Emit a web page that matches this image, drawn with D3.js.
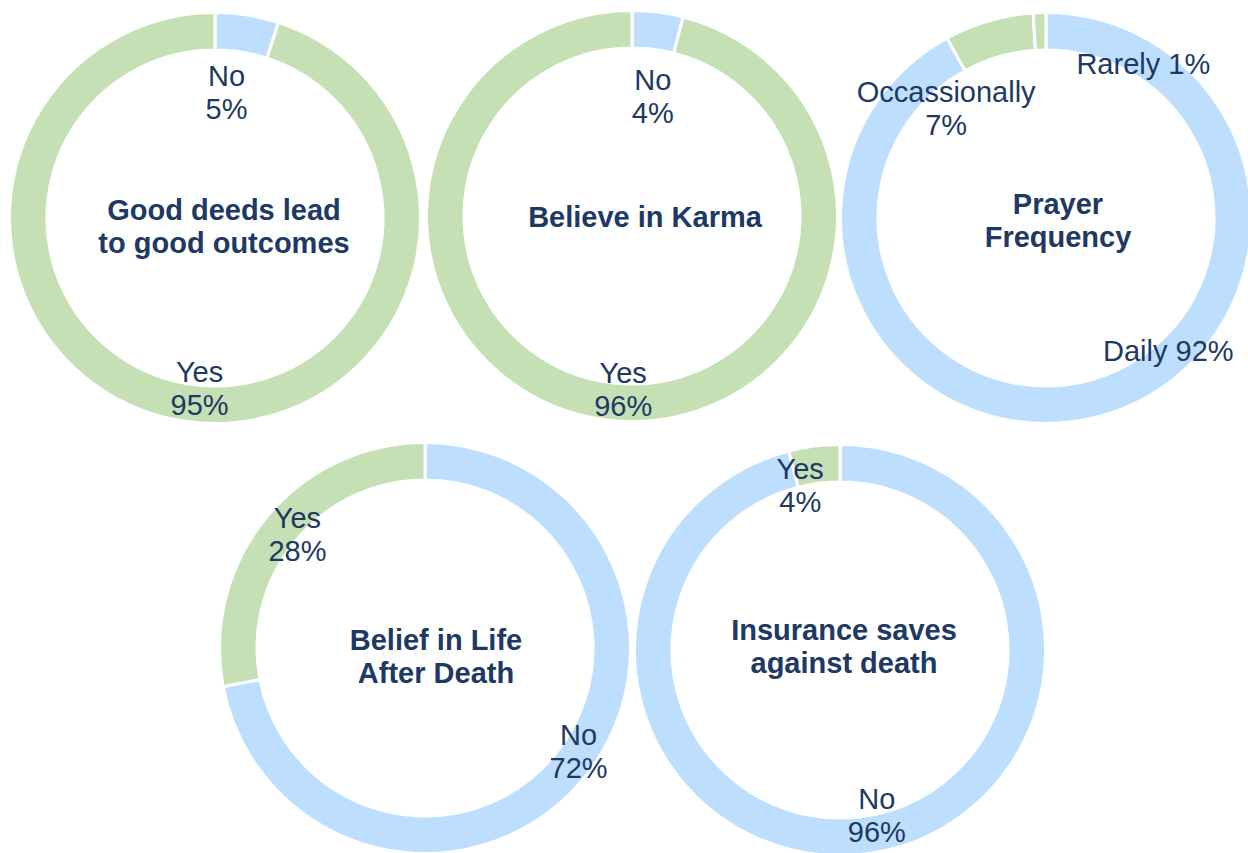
<!DOCTYPE html>
<html>
<head>
<meta charset="utf-8">
<script src="https://cdn.jsdelivr.net/npm/d3@7"></script>
<style>
  body { margin: 0; background: #fff; }
  svg { display: block; }
</style>
</head>
<body>
<div class="donuts"></div>
<script>
// chart titles (line-broken as in the original)
const titles = [
    ["Good deeds lead", "to good outcomes"],
    ["Believe in Karma"],
    ["Prayer", "Frequency"],
    ["Belief in Life", "After Death"],
    ["Insurance saves", "against death"]
];

// slice names and shares (%) per chart, clockwise from 12 o'clock
const categories = [
    ["No", "Yes"],
    ["No", "Yes"],
    ["Daily", "Occassionally", "Rarely"],
    ["No", "Yes"],
    ["No", "Yes"]
];
const values = [
    [5, 95],
    [4, 96],
    [92, 7, 1],
    [72, 28],
    [96, 4]
];
const sliceColors = [
    ["blue", "green"],
    ["blue", "green"],
    ["blue", "green", "green"],
    ["blue", "green"],
    ["blue", "green"]
];
// label lines: two-line labels split name / value
const labelSplit = [
    [true, true],
    [true, true],
    [false, true, false],
    [true, true],
    [true, true]
];

// layout
const width = 1248, height = 853;
const centers = [[215, 218], [632, 216], [1046, 218], [425, 648], [840, 650]];
const outerR = 205.5, innerR = 168, labelR = 150;
// hand-placed label nudges (px) from the arc centroid, like the source
const nudges = [
    [[-12, 22], [8, 22]],
    [[2, 29], [10, 24]],
    [[85, -12], [-58, 34], [102, -4]],
    [[38, 7], [-12, -18]],
    [[18, 16], [-21, -16]]
];
// titles sit a little off-centre in the source
const titleNudges = [[9, 8], [13, 1], [12, 2], [11, 8], [4, -4]];

const palette = { blue: "#BDDEFD", green: "#C5E0B4" };
const textColor = "#203864";
const fontSize = 29;

const pie = d3.pie().sort(null).value(d => d.value);
const arc = d3.arc().innerRadius(innerR).outerRadius(outerR);
const arcLabel = d3.arc().innerRadius(labelR).outerRadius(labelR);

const svg = d3.select(".donuts")
    .append("svg")
    .attr("width", width)
    .attr("height", height)
    .attr("font-family", "'Liberation Sans', Arial, sans-serif");

titles.forEach((title, i) => {
    const data = categories[i].map((name, j) => ({
        name: name, value: values[i][j], color: sliceColors[i][j],
        split: labelSplit[i][j], nudge: nudges[i][j]
    }));
    const arcs = pie(data);

    const g = svg.append("g")
        .attr("transform", `translate(${centers[i]})`);

    g.append("g")
        .attr("stroke", "white")
        .attr("stroke-width", 3)
        .selectAll("path")
        .data(arcs)
        .join("path")
        .attr("fill", d => palette[d.data.color])
        .attr("d", arc);

    // slice labels
    g.append("g")
        .attr("font-size", fontSize)
        .attr("fill", textColor)
        .attr("text-anchor", "middle")
        .selectAll("text")
        .data(arcs)
        .join("text")
        .attr("transform", d => {
            const [x, y] = arcLabel.centroid(d);
            return `translate(${x + d.data.nudge[0]},${y + d.data.nudge[1]})`;
        })
        .each(function (d) {
            const t = d3.select(this);
            if (d.data.split) {
                t.append("tspan").attr("x", 0).attr("y", -6).text(d.data.name);
                t.append("tspan").attr("x", 0).attr("y", 27).text(d.data.value + "%");
            } else {
                t.append("tspan").attr("x", 0).attr("y", 10)
                    .text(d.data.name + " " + d.data.value + "%");
            }
        });

    // centre title
    const [tx, ty] = titleNudges[i];
    const tt = g.append("text")
        .attr("font-size", fontSize)
        .attr("font-weight", "bold")
        .attr("fill", textColor)
        .attr("text-anchor", "middle");
    const n = title.length;
    title.forEach((line, k) => {
        tt.append("tspan")
            .attr("x", tx)
            .attr("y", (k - (n - 1) / 2) * 33 + 10 + ty)
            .text(line);
    });
});
</script>
</body>
</html>
